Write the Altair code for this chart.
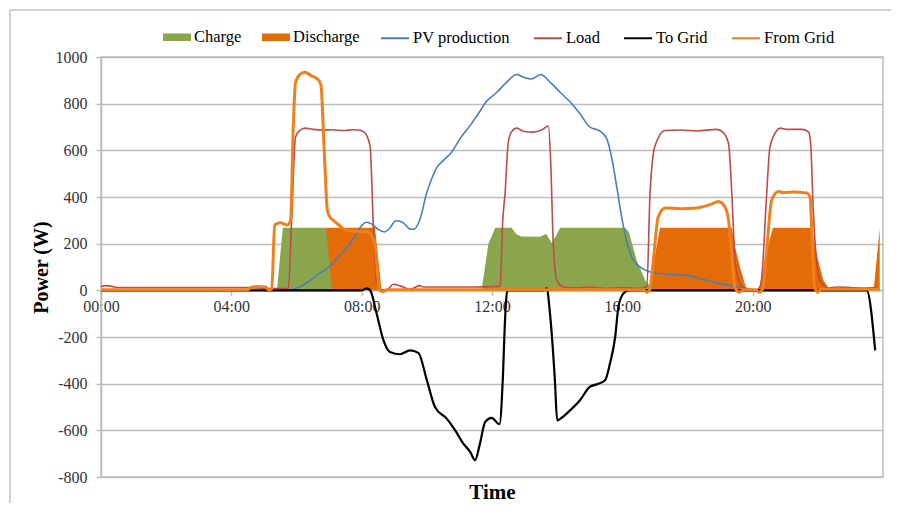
import altair as alt
import pandas as pd

# ---- data (hours of day, watts) ----
CHARGE_T = [5.40, 5.58, 6.91, 7.08, 11.68, 11.89, 12.10, 12.60, 12.75, 12.90, 13.47, 13.66, 13.83, 13.99, 14.09, 16.08, 16.20, 16.44, 16.70, 16.95]
CHARGE_W = [0, 268, 268, 0, 0, 200, 268, 268, 240, 231, 230, 243, 203, 240, 268, 268, 250, 128, 43, 0]

DISCHARGE_T = [6.80, 6.91, 8.41, 8.61, 16.80, 17.16, 19.36, 19.46, 19.61, 19.82, 20.20, 20.40, 20.62, 21.81, 21.96, 22.17, 22.38, 23.71, 23.90]
DISCHARGE_W = [0, 268, 268, 0, 0, 268, 268, 186, 100, 0, 0, 150, 268, 268, 157, 43, 0, 0, 265]

PV_T = [5.80, 6.10, 6.40, 6.62, 6.90, 7.13, 7.40, 7.64, 7.85, 7.95, 8.15, 8.30, 8.50, 8.70, 8.85, 9.05, 9.25, 9.50, 9.60, 9.79, 10.00, 10.10, 10.30, 10.51, 10.76, 11.02, 11.33, 11.58, 11.84, 12.15, 12.45, 12.76, 13.01, 13.22, 13.50, 13.78, 14.09, 14.40, 14.70, 15.00, 15.32, 15.52, 15.67, 15.83, 15.98, 16.14, 16.34, 16.60, 16.95, 17.50, 17.90, 18.40, 18.90, 19.40, 19.92, 20.10]
PV_W = [0, 15, 40, 65, 90, 118, 160, 200, 245, 268, 292, 285, 262, 250, 265, 298, 292, 262, 262, 305, 420, 460, 525, 557, 592, 650, 707, 757, 811, 849, 892, 925, 911, 906, 925, 892, 849, 807, 757, 700, 682, 650, 571, 442, 314, 207, 128, 95, 75, 68, 65, 50, 32, 18, 6, 0]

LOAD_T = [0.0, 0.15, 0.30, 0.50, 4.50, 5.00, 5.75, 5.85, 5.97, 6.10, 6.26, 6.50, 6.82, 7.10, 7.29, 7.50, 7.70, 7.90, 8.05, 8.15, 8.26, 8.36, 8.46, 8.61, 8.80, 8.97, 9.20, 9.48, 9.60, 9.78, 9.90, 10.50, 11.50, 12.00, 12.25, 12.33, 12.40, 12.50, 12.60, 12.76, 12.96, 13.27, 13.53, 13.73, 13.80, 13.88, 13.99, 14.20, 14.60, 15.00, 15.50, 16.00, 16.50, 16.75, 16.85, 16.95, 17.06, 17.31, 17.77, 18.30, 18.89, 19.10, 19.26, 19.36, 19.46, 19.61, 19.76, 20.07, 20.20, 20.28, 20.43, 20.53, 20.74, 20.84, 21.05, 21.50, 21.71, 21.78, 21.86, 21.96, 22.07, 22.32, 22.60, 23.00, 23.40, 23.81]
LOAD_W = [15, 20, 18, 12, 12, 8, 8, 300, 657, 685, 695, 690, 687, 688, 686, 685, 688, 687, 680, 665, 616, 270, 42, 2, 5, 26, 18, 4, 10, 20, 14, 14, 14, 16, 18, 300, 414, 635, 680, 695, 682, 678, 688, 704, 557, 200, 43, 14, 10, 14, 8, 12, 8, 15, 414, 585, 640, 685, 687, 683, 690, 676, 628, 414, 128, 29, 8, 0, 10, 57, 414, 614, 685, 695, 690, 690, 680, 628, 343, 128, 43, 10, 14, 12, 10, 12]

TOGRID_T = [0.0, 8.00, 8.15, 8.26, 8.46, 8.67, 8.87, 9.18, 9.48, 9.74, 10.00, 10.25, 10.61, 10.87, 11.12, 11.33, 11.48, 11.63, 11.79, 11.99, 12.23, 12.33, 12.40, 12.47, 13.60, 13.68, 13.78, 13.93, 14.00, 14.14, 14.40, 14.70, 15.00, 15.21, 15.47, 15.62, 15.78, 15.88, 16.03, 16.20, 23.50, 23.76]
TOGRID_W = [0, 0, 8, 0, -100, -214, -264, -274, -257, -268, -385, -500, -550, -600, -657, -692, -728, -657, -564, -547, -574, -385, -128, 0, 0, 8, -100, -385, -557, -546, -514, -471, -414, -403, -385, -314, -200, -71, -14, 0, 0, -257]

FROMGRID_T = [0.0, 4.50, 4.60, 4.80, 5.05, 5.15, 5.24, 5.33, 5.50, 5.72, 5.82, 5.90, 5.97, 6.10, 6.26, 6.45, 6.65, 6.75, 6.85, 6.95, 7.05, 7.13, 7.30, 7.44, 7.60, 8.20, 8.40, 8.55, 8.65, 8.80, 16.65, 16.75, 16.85, 16.95, 17.10, 17.31, 17.77, 18.28, 18.69, 18.95, 19.15, 19.26, 19.36, 19.46, 19.60, 19.70, 20.10, 20.20, 20.30, 20.43, 20.58, 20.79, 20.94, 21.25, 21.66, 21.76, 21.83, 21.90, 22.00, 22.10, 23.90]
FROMGRID_W = [3, 3, 12, 16, 14, 2, 5, 280, 290, 280, 300, 700, 890, 925, 935, 920, 905, 880, 600, 340, 310, 300, 280, 264, 255, 250, 200, 0, -5, 2, 2, -8, 5, 128, 314, 353, 350, 353, 367, 381, 357, 300, 150, 10, -8, 2, 2, -8, 5, 171, 385, 424, 419, 421, 417, 400, 200, 14, -8, 5, 5]

AREA_NAMES = ["Charge", "Discharge"]
AREA_COLORS = ["#8aa54c", "#e36c09"]
LINE_NAMES = ["PV production", "Load", "To Grid", "From Grid"]
LINE_COLORS = ["#4a7ebb", "#be4b48", "#000000", "#f07f1d"]
LINE_WIDTHS = [1.6, 1.6, 2.2, 3.0]
Y_TICKS = [-800, -600, -400, -200, 0, 200, 400, 600, 800, 1000]
X_TICKS = [0, 4, 8, 12, 16, 20]

series = {
    "Charge": (CHARGE_T, CHARGE_W),
    "Discharge": (DISCHARGE_T, DISCHARGE_W),
    "PV production": (PV_T, PV_W),
    "Load": (LOAD_T, LOAD_W),
    "To Grid": (TOGRID_T, TOGRID_W),
    "From Grid": (FROMGRID_T, FROMGRID_W),
}
rows = []
for name, (ts, ws) in series.items():
    for t, w in zip(ts, ws):
        rows.append({"t": t, "w": w, "series": name})
df = pd.DataFrame(rows)

SERIF = "Liberation Serif"
LABEL_COLOR = "#333333"
GRID = "#bdbdbd"

x_enc = alt.X(
    "t:Q",
    scale=alt.Scale(domain=[0, 24], nice=False, zero=False),
    axis=alt.Axis(
        values=X_TICKS,
        labelExpr="(datum.value < 10 ? '0' : '') + datum.value + ':00'",
        labelFlush=False,
        labelFont=SERIF, labelFontSize=16, labelColor=LABEL_COLOR,
        offset=-186.67,
        grid=False,
        title="Time",
        titleFont=SERIF, titleFontWeight="bold", titleColor="#000000",
        titleY=202,
        titleBaseline="middle",
        titleFontSize=21,
        labelPadding=3,
        domainColor=GRID, domainWidth=1.5, tickColor=GRID, tickWidth=1.5, tickSize=5,
    ),
)
y_enc = alt.Y(
    "w:Q",
    scale=alt.Scale(domain=[-800, 1000], nice=False),
    axis=alt.Axis(
        values=Y_TICKS,
        labelExpr="'' + datum.value",
        labelFont=SERIF, labelFontSize=16, labelColor=LABEL_COLOR,
        title="Power (W)",
        titleFont=SERIF, titleFontWeight="bold", titleColor="#000000",
        grid=True, gridColor=GRID, gridWidth=1.5,
        titleFontSize=20,
        titlePadding=4,
        labelPadding=9,
        domainColor=GRID, domainWidth=1.5, tickColor=GRID, tickWidth=1.5, tickSize=5,
    ),
)

fill_enc = alt.Fill(
    "series:N",
    scale=alt.Scale(domain=AREA_NAMES, range=AREA_COLORS),
    legend=alt.Legend(
        orient="none", legendX=62, legendY=-34, direction="horizontal", title=None,
        symbolType="M-1,-0.27H1V0.27H-1Z", symbolSize=784, symbolStrokeWidth=0,
        columnPadding=20, labelOffset=3, padding=0,
        labelFont=SERIF, labelFontSize=16.5, labelColor="#000000",
    ),
)
stroke_enc = alt.Stroke(
    "series:N",
    scale=alt.Scale(domain=LINE_NAMES, range=LINE_COLORS),
    legend=alt.Legend(
        orient="none", legendX=279, legendY=-34, direction="horizontal", title=None,
        symbolType="stroke", symbolSize=784, symbolStrokeWidth=2,
        columnPadding=20, labelOffset=3, padding=0,
        labelFont=SERIF, labelFontSize=16.5, labelColor="#000000",
    ),
)

base = alt.Chart(df)

def area_layer(name):
    return base.transform_filter(alt.datum.series == name).mark_area(
        interpolate="linear", opacity=1
    ).encode(x=x_enc, y=y_enc, fill=fill_enc)

def line_layer(name, width):
    return base.transform_filter(alt.datum.series == name).mark_line(
        interpolate="monotone", strokeWidth=width
    ).encode(x=x_enc, y=y_enc, stroke=stroke_enc)

one = pd.DataFrame({"a": [0]})
frame_top = alt.Chart(one).mark_rule(color="#a6a6a6", strokeWidth=1).encode(
    x=alt.value(-91), x2=alt.value(790), y=alt.value(-47))
frame_left = alt.Chart(one).mark_rule(color="#a6a6a6", strokeWidth=1).encode(
    x=alt.value(-91), y=alt.value(-47), y2=alt.value(460))

layers = [area_layer("Discharge"), area_layer("Charge")]
for n, wdt in zip(LINE_NAMES, LINE_WIDTHS):
    layers.append(line_layer(n, wdt))

chart = alt.layer(*layers, frame_top, frame_left).properties(
    width=782, height=420,
    autosize=alt.AutoSizeParams(type="none"),
    padding={"left": 93, "top": 49, "right": 8, "bottom": 26},
).configure_view(
    stroke=GRID, strokeWidth=1.5
)

chart.save("out.html", embed_options={"renderer": "svg", "actions": False})
